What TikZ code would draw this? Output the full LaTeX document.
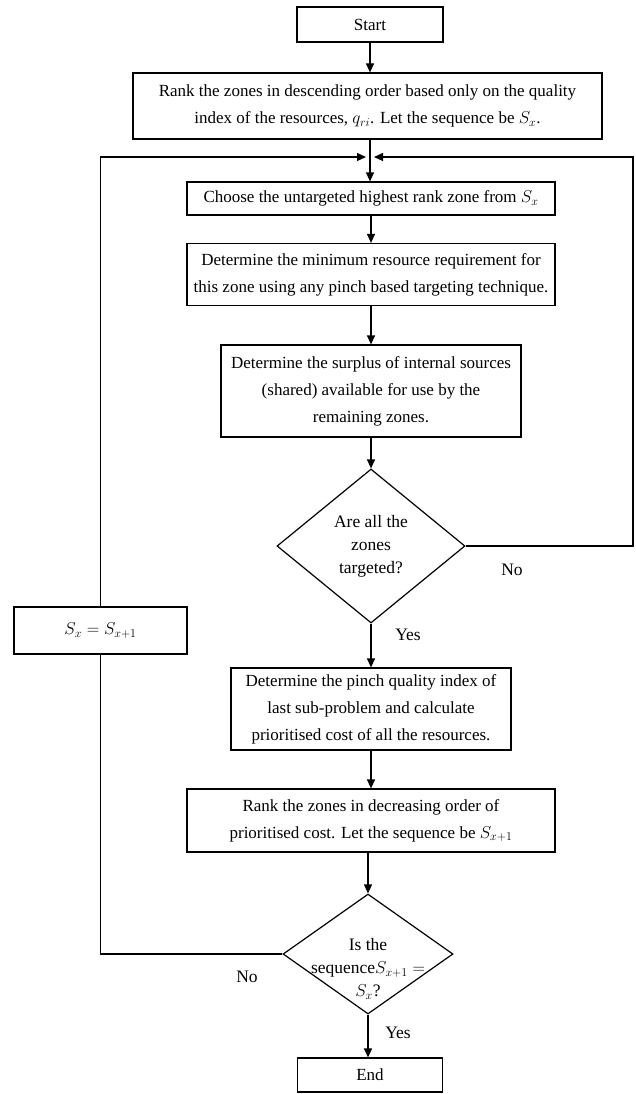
\documentclass[tikz,border=0pt]{standalone}
\usepackage{fontspec}
\setmainfont{Liberation Serif}
\usetikzlibrary{shapes.geometric,arrows.meta}
\begin{document}
\begin{tikzpicture}[x=1pt,y=-1pt,
  line width=1.2pt,
  box/.style={draw, inner sep=0pt, align=center, font=\fontsize{17}{27}\selectfont},
  dia/.style={draw, diamond, inner sep=0pt, aspect=1.2},
  dtext/.style={align=center, font=\fontsize{17.5}{23}\selectfont},
  lbl/.style={font=\fontsize{17.5}{20}\selectfont},
  arr/.style={-{Triangle[length=9pt,width=8pt]}}]
\useasboundingbox (0,0) rectangle (635,1094);
\node[box, minimum width=146pt, minimum height=35pt] (start) at (370,24.5) {Start};
\node[box, minimum width=469pt, minimum height=66pt] (rank1) at (367.5,106)
  {Rank the zones in descending order based only on the quality\\index of the resources, $q_{ri}$. Let the sequence be $S_x$.};
\node[box, minimum width=368pt, minimum height=33pt] (choose) at (371,198.5)
  {Choose the untargeted highest rank zone from $S_x$};
\node[box, minimum width=368pt, minimum height=62pt] (minres) at (371,274.5)
  {Determine the minimum resource requirement for\\this zone using any pinch based targeting technique.};
\node[box, minimum width=300pt, minimum height=92pt] (surplus) at (371,391)
  {Determine the surplus of internal sources\\(shared) available for use by the\\remaining zones.};
\node[dia, minimum width=188pt, minimum height=154pt] (d1) at (371,546) {};
\node[dtext] (d1t) at (371,546) {Are all the\\zones\\targeted?};
\node[box, minimum width=280pt, minimum height=82pt] (prio) at (371,709)
  {Determine the pinch quality index of\\last sub-problem and calculate\\prioritised cost of all the resources.};
\node[box, minimum width=368pt, minimum height=63pt] (rank2) at (371,820.5)
  {Rank the zones in decreasing order of\\prioritised cost. Let the sequence be $S_{x+1}$};
\node[dia, minimum width=170pt, minimum height=120pt] (d2) at (368,954) {};
\node[dtext] (d2t) at (368,969) {Is the\\sequence$S_{x+1}=$\\$S_x$?};
\node[box, minimum width=145pt, minimum height=34pt] (end) at (370,1075) {End};
\node[box, minimum width=173pt, minimum height=47pt] (sx) at (100.5,630.5) {$S_x = S_{x+1}$};
\coordinate (jl) at (366,157);
\coordinate (jr) at (374,157);
\coordinate (rc) at (633,546);
\node[lbl] (no1) at (512,570) {No};
\node[lbl] (yes1) at (408,635) {Yes};
\node[lbl] (no2) at (247,977) {No};
\node[lbl] (yes2) at (398,1033) {Yes};
\draw[arr] (start.south) -- (start.south |- rank1.north);
\draw[arr] (rank1.south -| start.south) -- (start.south |- choose.north);
\draw[arr] (choose.south) -- (minres.north);
\draw[arr] (minres.south) -- (surplus.north);
\draw[arr] (surplus.south) -- (d1.north);
\draw[arr] (d1.south) -- (prio.north);
\draw[arr] (prio.south) -- (rank2.north);
\draw[arr] (rank2.south -| d2.north) -- (d2.north);
\draw[arr] (d2.south) -- (d2.south |- end.north);
\draw[arr] (d1.east) -- (rc) |- (jr);
\draw (d2.west) -| (sx.south);
\draw[arr] (sx.north) |- (jl);
\end{tikzpicture}
\end{document}
